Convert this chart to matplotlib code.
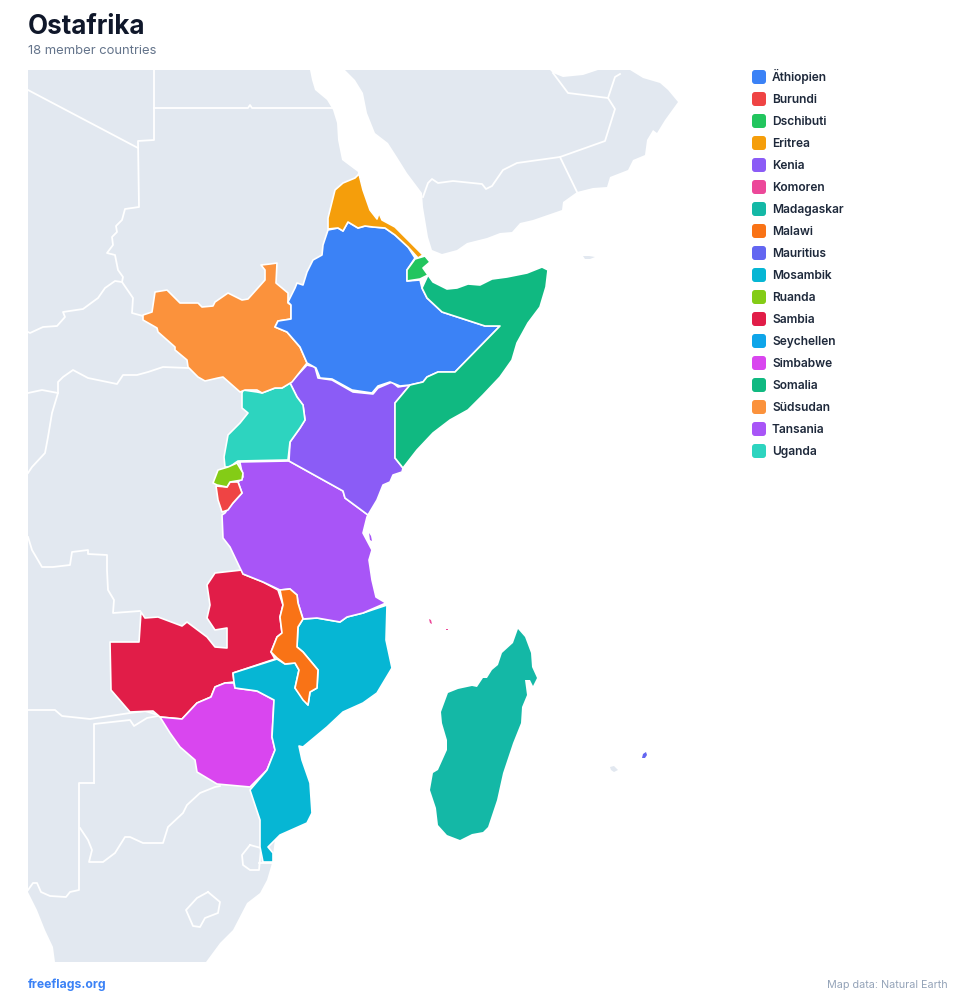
"""
Ostafrika member map. Outlines are traced from the picture, in picture pixels.
"""

import matplotlib

matplotlib.use("Agg")  # headless
import matplotlib.pyplot as plt
from matplotlib.patches import FancyBboxPatch

plt.rcParams["font.family"] = ["Inter", "DejaVu Sans"]

NAMES = [
    "Äthiopien", "Burundi", "Dschibuti", "Eritrea", "Kenia", "Komoren",
    "Madagaskar", "Malawi", "Mauritius", "Mosambik", "Ruanda", "Sambia",
    "Seychellen", "Simbabwe", "Somalia", "Südsudan", "Tansania", "Uganda",
]
COLORS = [
    "#3b82f6", "#ef4444", "#22c55e", "#f59e0b", "#8b5cf6", "#ec4899",
    "#14b8a6", "#f97316", "#6366f1", "#06b6d4", "#84cc16", "#e11d48",
    "#0ea5e9", "#d946ef", "#10b981", "#fb923c", "#a855f7", "#2dd4bf",
]

# grey land
AFRICA = [(28, 70), (310, 70), (312, 80), (315, 90), (327, 100), (333, 110), (337, 123), (338, 140),
          (342, 160), (358, 172), (272, 863), (267, 880), (260, 893), (247, 903), (233, 930),
          (220, 943), (206, 962), (55, 962), (53, 947), (45, 930), (37, 910), (28, 892)]
ARABIA = [(345, 70), (355, 80), (363, 93), (367, 113), (375, 133), (388, 143), (397, 157), (407, 173),
          (422, 193), (423, 207), (428, 237), (432, 250), (442, 254), (457, 250), (467, 243),
          (487, 238), (500, 233), (512, 232), (520, 223), (533, 220), (562, 210), (563, 202),
          (577, 192), (593, 188), (607, 187), (610, 177), (628, 170), (633, 160), (645, 155),
          (647, 140), (653, 130), (657, 133), (665, 120), (678, 102), (668, 90), (660, 83),
          (643, 78), (630, 70), (598, 70), (583, 75), (563, 77), (553, 73), (550, 70)]
SOCOTRA = [(583, 256), (589, 256), (595, 257), (590, 259), (585, 259)]
REUNION = [(610, 767), (614, 766), (618, 770), (614, 772), (611, 770)]

# white lines between the grey countries
GREY_BORDERS = [
    [(154, 70), (154, 140), (138, 141), (139, 207), (125, 209), (122, 220), (116, 226), (117, 232),
     (112, 237), (113, 245), (107, 253), (115, 255), (118, 270), (123, 277), (122, 282), (133, 298),
     (132, 313), (143, 316)],
    [(154, 108), (248, 108), (250, 105), (252, 108), (333, 108)],
    [(28, 90), (138, 148)],
    [(122, 282), (115, 281), (105, 288), (98, 298), (83, 309), (63, 312), (65, 317), (57, 326),
     (43, 327), (30, 333), (28, 332)],
    [(188, 368), (163, 367), (148, 372), (137, 375), (123, 375), (117, 384), (88, 378), (73, 370),
     (63, 377), (58, 382), (58, 393), (52, 413), (48, 437), (45, 453), (32, 467), (28, 473)],
    [(28, 393), (42, 390), (58, 393)],
    [(28, 537), (32, 550), (42, 567), (53, 567), (70, 565), (72, 552), (88, 550), (88, 554), (107, 555),
     (107, 570), (108, 590), (114, 600), (113, 613), (140, 611)],
    [(28, 710), (55, 710), (62, 716), (90, 719), (130, 713), (145, 711), (158, 715)],
    [(94, 783), (94, 724), (130, 720), (134, 726), (147, 718), (158, 716)],
    [(94, 783), (79, 783), (79, 890), (70, 892), (66, 897), (50, 896), (41, 892), (37, 883), (33, 883),
     (28, 890)],
    [(80, 828), (88, 840), (92, 850), (89, 862), (103, 862), (115, 853), (125, 837), (130, 837),
     (143, 843), (163, 843), (168, 827), (183, 813), (187, 805), (200, 793), (215, 787), (220, 786)],
    [(250, 845), (242, 855), (243, 865), (250, 870), (259, 870), (261, 848), (250, 845)],
    [(259, 863), (272, 863)],
    [(208, 892), (220, 902), (218, 913), (205, 918), (200, 927), (193, 926), (186, 910), (197, 898),
     (208, 892)],
    [(423, 197), (428, 183), (432, 179), (438, 183), (453, 181), (482, 184), (486, 189), (492, 186),
     (503, 170), (517, 163), (560, 157), (605, 141), (615, 109), (608, 98), (615, 77), (620, 74)],
    [(608, 98), (568, 93), (553, 73)],
    [(560, 157), (577, 192)],
]

# member countries
ETHIOPIA = [(328, 230), (338, 228), (343, 231), (348, 222), (358, 228), (365, 226), (373, 227), (385, 228),
            (395, 235), (408, 247), (415, 258), (407, 270), (407, 281), (420, 280), (422, 288), (427, 298),
            (442, 312), (485, 326), (500, 326), (455, 372), (438, 372), (427, 377), (423, 382), (410, 385),
            (400, 386), (390, 382), (378, 386), (372, 393), (352, 390), (332, 379), (320, 378), (316, 368),
            (307, 363), (300, 347), (287, 332), (275, 327), (278, 321), (291, 319), (291, 305), (288, 302),
            (295, 288), (297, 283), (303, 285), (307, 272), (313, 260), (322, 255), (323, 245)]
BURUNDI = [(216, 486), (227, 487), (230, 482), (238, 482), (242, 493), (233, 503), (228, 510), (222, 512),
           (218, 500)]
DJIBOUTI = [(415, 259), (425, 256), (430, 262), (423, 268), (428, 275), (420, 279), (407, 281), (407, 270)]
ERITREA = [(359, 174), (363, 190), (370, 210), (377, 219), (379, 213), (382, 220), (395, 227), (410, 242),
           (423, 255), (418, 258), (408, 247), (395, 235), (385, 228), (373, 227), (365, 226), (358, 228),
           (348, 222), (343, 231), (338, 228), (328, 229), (328, 218), (335, 190), (343, 183), (355, 178)]
KENYA = [(307, 365), (315, 367), (318, 378), (332, 380), (353, 392), (373, 394), (378, 388), (392, 382),
         (398, 387), (410, 385), (395, 403), (395, 458), (403, 468), (402, 472), (393, 475), (390, 482),
         (383, 485), (377, 500), (368, 515), (345, 498), (343, 491), (289, 461), (290, 442), (300, 428),
         (305, 420), (303, 405), (297, 397), (290, 383)]
COMOROS = [(429, 619), (431, 620), (432, 624), (430, 623)]
COMOROS_EAST = [(446, 629), (448, 629), (448, 630), (446, 630)]
MADAGASCAR = [(518, 629), (525, 637), (531, 653), (532, 667), (537, 678), (533, 686), (530, 680), (525, 680),
              (527, 695), (522, 707), (521, 723), (513, 743), (503, 773), (497, 800), (488, 827), (483, 832),
              (472, 834), (460, 840), (447, 835), (438, 825), (436, 808), (430, 790), (433, 773), (438, 770),
              (447, 750), (447, 740), (442, 723), (441, 712), (448, 693), (458, 689), (472, 686), (477, 687),
              (483, 678), (487, 678), (492, 670), (498, 665), (502, 653), (513, 643)]
MALAWI = [(280, 590), (290, 589), (297, 595), (298, 603), (303, 619), (298, 627), (297, 647), (303, 652),
          (318, 670), (317, 688), (310, 692), (308, 705), (303, 700), (295, 688), (299, 670), (295, 663),
          (285, 664), (277, 658), (271, 652), (277, 637), (282, 633), (280, 617), (283, 605)]
MAURITIUS = [(643, 754), (646, 752), (647, 755), (645, 758), (642, 758)]
MOZAMBIQUE = [(387, 605), (386, 640), (392, 668), (377, 693), (363, 703), (343, 712), (327, 727), (303, 747),
              (299, 746), (302, 760), (310, 783), (312, 813), (307, 823), (280, 835), (268, 847), (273, 853),
              (273, 862), (263, 862), (260, 847), (260, 820), (250, 790), (267, 770), (275, 750), (272, 737),
              (274, 700), (257, 691), (235, 688), (234, 682), (233, 673), (277, 659), (285, 664), (295, 663),
              (299, 670), (295, 688), (308, 705), (310, 692), (317, 688), (318, 670), (303, 652), (297, 647),
              (298, 627), (303, 619), (317, 618), (340, 622), (347, 617), (363, 613)]
RWANDA = [(213, 483), (218, 470), (228, 467), (237, 463), (243, 473), (242, 480), (230, 482), (227, 487),
          (217, 485)]
ZAMBIA = [(242, 570), (215, 573), (207, 585), (210, 605), (207, 618), (215, 630), (227, 628), (227, 648),
          (215, 647), (207, 637), (187, 622), (182, 626), (158, 617), (145, 618), (141, 612), (139, 642),
          (110, 642), (111, 690), (130, 712), (153, 711), (160, 717), (182, 719), (197, 703), (211, 697),
          (215, 687), (225, 683), (234, 682), (233, 673), (275, 659), (271, 652), (277, 637), (282, 633),
          (280, 617), (283, 605), (278, 590), (263, 582), (243, 574)]
ZIMBABWE = [(160, 717), (182, 719), (197, 703), (211, 697), (215, 687), (225, 683), (234, 683), (235, 688),
            (257, 691), (274, 700), (272, 737), (275, 750), (267, 770), (250, 787), (217, 784), (197, 772),
            (195, 760), (180, 747), (170, 733)]
SOMALIA = [(428, 275), (433, 282), (447, 289), (457, 288), (468, 284), (480, 285), (492, 279), (507, 277),
           (527, 273), (542, 267), (548, 270), (546, 287), (540, 307), (528, 323), (517, 343), (512, 360),
           (500, 377), (483, 395), (468, 410), (450, 420), (433, 433), (417, 450), (403, 468), (395, 458),
           (395, 403), (410, 385), (423, 382), (427, 377), (438, 372), (455, 372), (500, 326), (485, 326),
           (442, 312), (427, 298), (422, 288)]
SOUTH_SUDAN = [(143, 315), (152, 312), (155, 292), (167, 290), (180, 303), (198, 303), (202, 307), (213, 306),
               (215, 302), (228, 293), (242, 300), (248, 299), (265, 280), (265, 270), (261, 265), (270, 264),
               (277, 263), (276, 283), (288, 293), (288, 303), (291, 305), (291, 319), (278, 321), (275, 327),
               (287, 332), (300, 347), (307, 363), (292, 382), (282, 388), (275, 388), (262, 393), (257, 390),
               (245, 390), (240, 392), (223, 377), (218, 378), (205, 381), (198, 377), (188, 367), (187, 360),
               (175, 350), (175, 347), (158, 332), (157, 328), (143, 320)]
TANZANIA = [(238, 462), (289, 461), (343, 491), (345, 498), (368, 515), (367, 517), (363, 533), (372, 550),
            (369, 560), (372, 580), (376, 597), (386, 603), (363, 613), (347, 617), (340, 622), (317, 618),
            (303, 619), (298, 603), (297, 595), (290, 589), (280, 590), (263, 582), (243, 574), (240, 568),
            (230, 547), (223, 538), (222, 515), (225, 513), (227, 510), (233, 503), (242, 493), (238, 482),
            (243, 477), (240, 463)]
ZANZIBAR = [(369, 533), (371, 536), (372, 541), (370, 540)]
UGANDA = [(243, 390), (257, 392), (262, 393), (275, 388), (282, 388), (290, 383), (297, 397), (303, 405),
          (305, 420), (300, 428), (290, 442), (288, 460), (238, 461), (235, 463), (230, 467), (225, 467),
          (224, 457), (228, 435), (240, 423), (248, 413), (242, 408), (242, 393)]

SHAPES = {
    "Äthiopien": [ETHIOPIA], "Burundi": [BURUNDI], "Dschibuti": [DJIBOUTI], "Eritrea": [ERITREA],
    "Kenia": [KENYA], "Komoren": [COMOROS, COMOROS_EAST], "Madagaskar": [MADAGASCAR], "Malawi": [MALAWI],
    "Mauritius": [MAURITIUS], "Mosambik": [MOZAMBIQUE], "Ruanda": [RWANDA], "Sambia": [ZAMBIA],
    "Seychellen": [], "Simbabwe": [ZIMBABWE], "Somalia": [SOMALIA], "Südsudan": [SOUTH_SUDAN],
    "Tansania": [TANZANIA, ZANZIBAR], "Uganda": [UGANDA],
}
# big ones first, the tiny countries go on top
DRAW_ORDER = ["Sambia", "Simbabwe", "Mosambik", "Tansania", "Kenia", "Uganda", "Südsudan", "Äthiopien", "Somalia",
              "Eritrea", "Dschibuti", "Burundi", "Ruanda", "Malawi", "Madagaskar", "Komoren", "Mauritius"]

LAND = "#e2e8f0"
PX = 0.72  # font size in points for one pixel at dpi 100


def xy(points):
    return [p[0] for p in points], [p[1] for p in points]


fig = plt.figure(figsize=(9.76, 10.02), dpi=100)
ax = fig.add_axes([0, 0, 1, 1])
ax.set_xlim(0, 976)
ax.set_ylim(1002, 0)
ax.axis("off")

for land in [AFRICA, ARABIA, SOCOTRA, REUNION]:
    ax.fill(*xy(land), color=LAND, linewidth=0, zorder=1)
for border in GREY_BORDERS:
    ax.plot(*xy(border), color="white", linewidth=1.3, solid_joinstyle="round", zorder=2)

color_of = dict(zip(NAMES, COLORS))
for name in DRAW_ORDER:
    for shape in SHAPES[name]:
        tiny = len(shape) < 6
        ax.fill(*xy(shape), facecolor=color_of[name], edgecolor="white",
                linewidth=0 if tiny or name == "Madagaskar" else 1.2, joinstyle="round", zorder=3)

for i, (name, color) in enumerate(zip(NAMES, COLORS)):
    y = 77 + i * 22
    ax.add_patch(FancyBboxPatch((754, y - 5), 10, 10, boxstyle="round,pad=2,rounding_size=3",
                                facecolor=color, edgecolor="none", zorder=3))
    ax.text(772, y + 4, name, fontsize=12 * PX, fontweight=600, color="#1e293b", va="baseline", ha="left")

ax.text(28, 34, "Ostafrika", fontsize=26 * PX, fontweight="bold", color="#0f172a", ha="left", va="baseline")
ax.text(28, 54, "18 member countries", fontsize=13 * PX, color="#64748b", ha="left", va="baseline")
ax.text(28, 988, "freeflags.org", fontsize=12.2 * PX, fontweight="bold", color="#3b82f6", ha="left", va="baseline")
ax.text(948, 988, "Map data: Natural Earth", fontsize=10.8 * PX, color="#94a3b8", ha="right", va="baseline")

plt.savefig("out.png", dpi=100, facecolor="white")
plt.close()
